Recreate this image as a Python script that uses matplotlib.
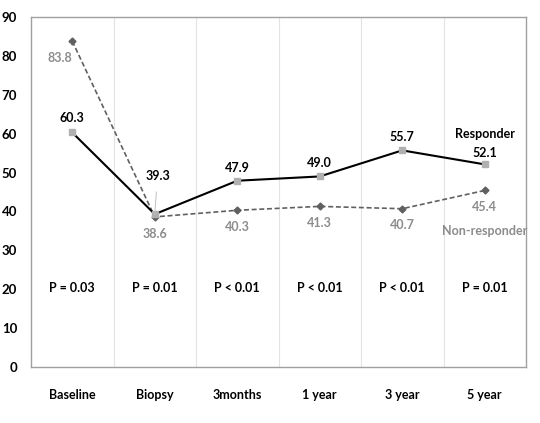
import matplotlib.pyplot as plt

categories = ['Baseline', 'Biopsy', '3months', '1 year', '3 year', '5 year']
responder = [60.3, 39.3, 47.9, 49.0, 55.7, 52.1]
non_responder = [83.8, 38.6, 40.3, 41.3, 40.7, 45.4]
p_values = ['P = 0.03', 'P = 0.01', 'P < 0.01', 'P < 0.01', 'P < 0.01', 'P = 0.01']
y_ticks = [0, 10, 20, 30, 40, 50, 60, 70, 80, 90]

plt.rcParams['font.family'] = ['Lato', 'DejaVu Sans']

fig = plt.figure(figsize=(5.4, 4.23), dpi=100)
ax = fig.add_axes([31 / 540, 1 - 367 / 423, 495 / 540, 350 / 423])

x = list(range(len(categories)))

# light vertical separators between categories
for i in range(1, len(categories)):
    ax.axvline(i - 0.5, color='#e3e3e3', lw=0.8, zorder=0)

ax.plot(x, non_responder, color='#606060', lw=1.2, ls=(0, (3, 1.6)),
        marker='D', ms=3.5, mfc='#606060', mec='#606060', zorder=2)
ax.plot(x, responder, color='black', lw=1.5,
        marker='s', ms=5, mfc='#b0b0b0', mec='#b0b0b0', zorder=3)

bold = dict(fontsize=9, fontweight='bold', ha='center', va='center')

# responder labels (above)
resp_off = [15, 38, 13, 13, 13, 11]
for i, v in enumerate(responder):
    if i == 1:
        ax.annotate(f'{v:.1f}', (i, v), xytext=(2, resp_off[i] * 0.72),
                    textcoords='offset points', color='black',
                    arrowprops=dict(arrowstyle='-', color='#c0c0c0', lw=0.7,
                                    shrinkA=5, shrinkB=0), **bold)
    else:
        ax.annotate(f'{v:.1f}', (i, v), xytext=(0, resp_off[i] * 0.72),
                    textcoords='offset points', color='black', **bold)

# non-responder labels (below)
for i, v in enumerate(non_responder):
    if i == 0:
        ax.annotate(f'{v:.1f}', (i, v), xytext=(-9, -12),
                    textcoords='offset points', color='#8c8c8c',
                    arrowprops=dict(arrowstyle='-', color='#c0c0c0', lw=0.7,
                                    shrinkA=5, shrinkB=2), **bold)
    else:
        ax.annotate(f'{v:.1f}', (i, v), xytext=(0, -12),
                    textcoords='offset points', color='#8c8c8c', **bold)

ax.annotate('Responder', (5, responder[5]), xytext=(0, 22),
            textcoords='offset points', color='black', **bold)
ax.annotate('Non-responder', (5, non_responder[5]), xytext=(0, -29),
            textcoords='offset points', color='#8c8c8c', **bold)

for i, p in enumerate(p_values):
    ax.text(i, 20.3, p, color='black', **bold)

ax.set_xlim(-0.5, len(categories) - 0.5)
ax.set_ylim(0, 90)
ax.set_yticks(y_ticks)
ax.set_xticks(x)
ax.set_xticklabels(categories, fontsize=9, fontweight='bold')
ax.tick_params(axis='x', length=0, pad=16)
ax.tick_params(axis='y', length=0, pad=10, labelsize=9.5)
for lbl in ax.get_yticklabels():
    lbl.set_fontweight('bold')
for s in ax.spines.values():
    s.set_color('#a0a0a0')
    s.set_linewidth(1.0)

fig.savefig('out.png', dpi=100)
